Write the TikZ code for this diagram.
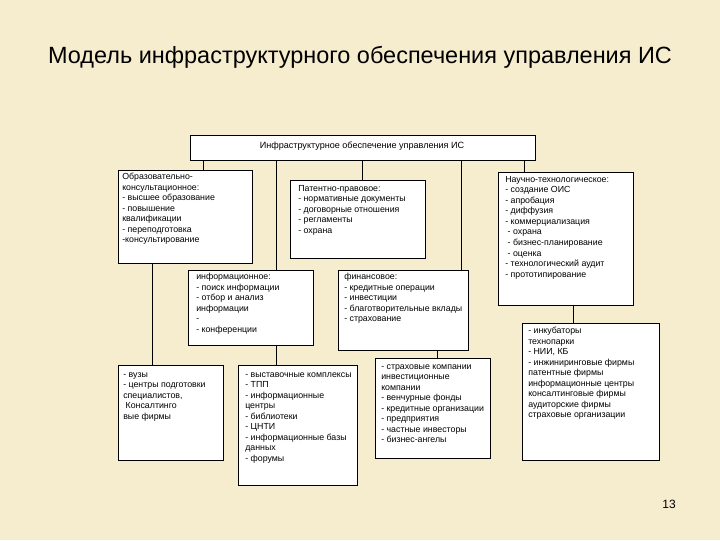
\documentclass[tikz,border=0pt]{standalone}
\usepackage{fontspec}
\setmainfont{Liberation Sans}
\begin{document}
\begin{tikzpicture}[x=0.75pt,y=-0.75pt,
  box/.style={draw,fill=white,line width=0.6pt,inner sep=0pt},
  txt/.style={anchor=north west,align=left,font=\fontsize{6.6}{7.9}\selectfont,inner sep=0pt},
  ln/.style={line width=0.6pt}]
\fill[fill={rgb,255:red,246;green,236;blue,206}] (0,0) rectangle (720,540);
\useasboundingbox (0,0) rectangle (720,540);
\node[font=\fontsize{17.6}{20}\selectfont] (title) at (360,57) {Модель инфраструктурного обеспечения управления ИС};
\node[font=\fontsize{9}{10}\selectfont] (pg) at (669,504) {13};
% boxes
\draw[box] (190,135) rectangle (535,160);
\node[font=\fontsize{6.8}{8}\selectfont] (top) at (362,146) {Инфраструктурное обеспечение управления ИС};
\draw[box] (118,170) rectangle (252,263);
\node[txt] (edu) at (122,173) {Образовательно-\\консультационное:\\- высшее образование\\- повышение\\квалификации\\- переподготовка\\-консультирование};
\draw[box] (290,180) rectangle (425,258);
\node[txt] (pat) at (298,185) {Патентно-правовое:\\- нормативные документы\\- договорные отношения\\- регламенты\\- охрана};
\draw[box] (188,270) rectangle (313,345);
\node[txt] (inf) at (196,273) {информационное:\\- поиск информации\\- отбор и анализ\\информации\\-\\- конференции};
\draw[box] (338,270) rectangle (468,350);
\node[txt] (fin) at (344,273) {финансовое:\\- кредитные операции\\- инвестиции\\- благотворительные вклады\\- страхование};
\draw[box] (498,172) rectangle (633,305);
\node[txt] (sci) at (505,176) {Научно-технологическое:\\- создание ОИС\\- апробация\\- диффузия\\- коммерциализация\\\ - охрана\\\ - бизнес-планирование\\\ - оценка\\- технологический аудит\\- прототипирование};
\draw[box] (118,365) rectangle (223,460);
\node[txt] (vuz) at (123,372) {- вузы\\- центры подготовки\\специалистов,\\\ Консалтинго\\вые фирмы};
\draw[box] (238,365) rectangle (357,485);
\node[txt] (exh) at (245,372) {- выставочные комплексы\\- ТПП\\- информационные\\центры\\- библиотеки\\- ЦНТИ\\- информационные базы\\данных\\- форумы};
\draw[box] (375,358) rectangle (490,458);
\node[txt] (ins) at (381,364) {- страховые компании\\инвестиционные\\компании\\- венчурные фонды\\- кредитные организации\\- предприятия\\- частные инвесторы\\- бизнес-ангелы};
\draw[box] (522,323) rectangle (659,460);
\node[txt] (inc) at (528,327) {- инкубаторы\\технопарки\\- НИИ, КБ\\- инжиниринговые фирмы\\патентные фирмы\\информационные центры\\консалтинговые фирмы\\аудиторские фирмы\\страховые организации};
% connectors
\draw[ln] (203,160) -- (203,170);
\draw[ln] (276,160) -- (276,270);
\draw[ln] (362,160) -- (362,180);
\draw[ln] (461,160) -- (461,270);
\draw[ln] (524,160) -- (524,172);
\draw[ln] (152,263) -- (152,365);
\draw[ln] (276,345) -- (276,365);
\draw[ln] (437,350) -- (437,358);
\draw[ln] (573,305) -- (573,323);
\end{tikzpicture}
\end{document}
